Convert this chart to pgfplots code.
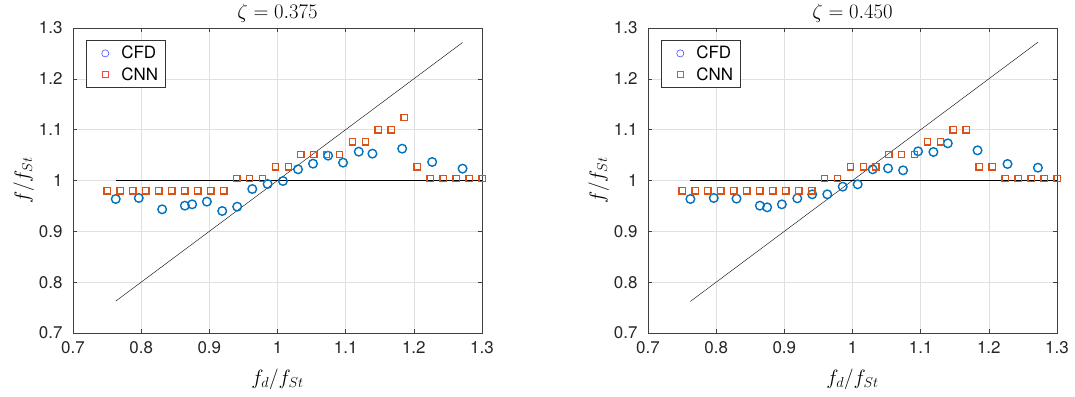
\documentclass[border=0pt]{standalone}
\usepackage{pgfplots}
\pgfplotsset{compat=1.18}
\usepackage{pgfplotstable}
\usepackage{fontspec}
\setmainfont{TeX Gyre Heros}
\definecolor{mblue}{rgb}{0,0.447,0.741}
\definecolor{morange}{rgb}{0.85,0.325,0.098}
\definecolor{lblue}{rgb}{0.3,0.3,1}
\definecolor{lred}{rgb}{1,0.25,0.25}

\pgfplotstableread{
x y
0.7627 0.9636
0.7965 0.9656
0.8308 0.9433
0.8641 0.9505
0.8748 0.9531
0.8964 0.9584
0.9189 0.9400
0.9409 0.9485
0.9630 0.9833
0.9855 0.9931
1.0080 0.9990
1.0301 1.0220
1.0521 1.0331
1.0742 1.0489
1.0962 1.0351
1.1192 1.0567
1.1393 1.0528
1.1829 1.0626
1.2269 1.0364
1.2715 1.0233
}\cfdA

\pgfplotstableread{
x y
0.750 0.980
0.769 0.980
0.788 0.980
0.807 0.980
0.826 0.980
0.845 0.980
0.864 0.980
0.883 0.980
0.902 0.980
0.921 0.980
0.940 1.004
0.959 1.004
0.978 1.004
0.997 1.027
1.016 1.027
1.034 1.051
1.053 1.051
1.072 1.051
1.091 1.051
1.110 1.076
1.129 1.076
1.148 1.100
1.167 1.100
1.186 1.124
1.205 1.027
1.224 1.004
1.243 1.004
1.262 1.004
1.281 1.004
1.300 1.004
}\cnnA

\pgfplotstableread{
x y
0.7622 0.9636
0.7965 0.9656
0.8298 0.9643
0.8641 0.9505
0.8748 0.9472
0.8964 0.9531
0.9190 0.9649
0.9409 0.9728
0.9630 0.9728
0.9856 0.9879
1.0076 0.9925
1.0296 1.0220
1.0521 1.0239
1.0742 1.0200
1.0962 1.0574
1.1187 1.0561
1.1398 1.0731
1.1834 1.0593
1.2274 1.0325
1.2720 1.0252
}\cfdB

\pgfplotstableread{
x y
0.750 0.980
0.769 0.980
0.788 0.980
0.807 0.980
0.826 0.980
0.845 0.980
0.864 0.980
0.883 0.980
0.902 0.980
0.921 0.980
0.940 0.980
0.959 1.004
0.978 1.004
0.997 1.027
1.016 1.027
1.034 1.027
1.053 1.051
1.072 1.051
1.091 1.051
1.110 1.076
1.129 1.076
1.148 1.100
1.167 1.100
1.186 1.027
1.205 1.027
1.224 1.004
1.243 1.004
1.262 1.004
1.281 1.004
1.300 1.004
}\cnnB

\pgfplotsset{
  mystyle/.style={
    scale only axis, width=409bp, height=305bp,
    xmin=0.7, xmax=1.3, ymin=0.7, ymax=1.3,
    xtick={0.7,0.8,0.9,1,1.1,1.2,1.3},
    ytick={0.7,0.8,0.9,1,1.1,1.2,1.3},
    grid=major,
    major grid style={black!12, line width=0.5bp},
    axis line style={black!75, line width=0.6bp},
    tick align=inside,
    major tick length=4bp,
    tick style={black!75, line width=0.5bp},
    every tick label/.append style={font=\fontsize{17}{20}\selectfont, text=black!85},
    /pgf/number format/assume math mode=true,
    xticklabel style={yshift=-5bp},
    yticklabel style={xshift=-7bp},
    every axis title shift=0pt,
    title style={font=\fontsize{20}{24}\selectfont, at={(0.5,1)}, anchor=base, yshift=9bp},
    label style={font=\fontsize{20}{24}\selectfont},
    xlabel={$f_d/f_{St}$},
    ylabel={$f/f_{St}$},
    xlabel style={yshift=-8bp},
    ylabel style={yshift=-2bp},
    legend style={at={(0,1)}, anchor=north west, xshift=13bp, yshift=-12bp,
      draw=black!80, line width=0.6bp,
      nodes={font=\fontsize{17}{19}\selectfont, inner ysep=3bp, inner xsep=5bp},
      row sep=1bp, inner xsep=2bp, inner ysep=3bp},
    legend cell align=left,
    legend image code/.code={%
      \path[draw=none, fill=none] (0bp,-2bp) rectangle (28bp,2bp);
      \path[##1, only marks] plot coordinates {(17bp,0bp)};},
    cfd/.style={only marks, mark=o, color=mblue, mark size=4.3bp, line width=1.4bp,
      mark options={solid, draw=mblue, fill=none}, forget plot},
    cnn/.style={only marks, mark=square, color=morange, mark size=3.2bp, line width=1.4bp,
      mark options={solid, draw=morange, fill=none}, forget plot},
  }
}

\begin{document}
\begin{tikzpicture}
\path[use as bounding box] (0,0) rectangle (1075bp,397bp);
\begin{axis}[mystyle, at={(73bp,64bp)}, anchor=south west, title={$\zeta = 0.375$}]
\addlegendimage{mark=o, color=lblue, mark size=3.6bp, line width=0.6bp, mark options={draw=lblue}}
\addlegendentry{CFD}
\addlegendimage{mark=square, color=lred, mark size=3bp, line width=0.6bp, mark options={draw=lred}}
\addlegendentry{CNN}
\addplot[black, line width=0.4bp, forget plot] coordinates {(0.7627,1) (1.3,1)};
\addplot[black, line width=0.4bp, forget plot] coordinates {(0.7627,0.7627) (1.2715,1.2715)};
\addplot[cfd] table[x=x,y=y] {\cfdA};
\addplot[cnn] table[x=x,y=y] {\cnnA};
\end{axis}
\begin{axis}[mystyle, at={(648bp,64bp)}, anchor=south west, title={$\zeta = 0.450$}]
\addlegendimage{mark=o, color=lblue, mark size=3.6bp, line width=0.6bp, mark options={draw=lblue}}
\addlegendentry{CFD}
\addlegendimage{mark=square, color=lred, mark size=3bp, line width=0.6bp, mark options={draw=lred}}
\addlegendentry{CNN}
\addplot[black, line width=0.4bp, forget plot] coordinates {(0.7622,1) (1.3,1)};
\addplot[black, line width=0.4bp, forget plot] coordinates {(0.7622,0.7622) (1.272,1.272)};
\addplot[cfd] table[x=x,y=y] {\cfdB};
\addplot[cnn] table[x=x,y=y] {\cnnB};
\end{axis}
\end{tikzpicture}
\end{document}
